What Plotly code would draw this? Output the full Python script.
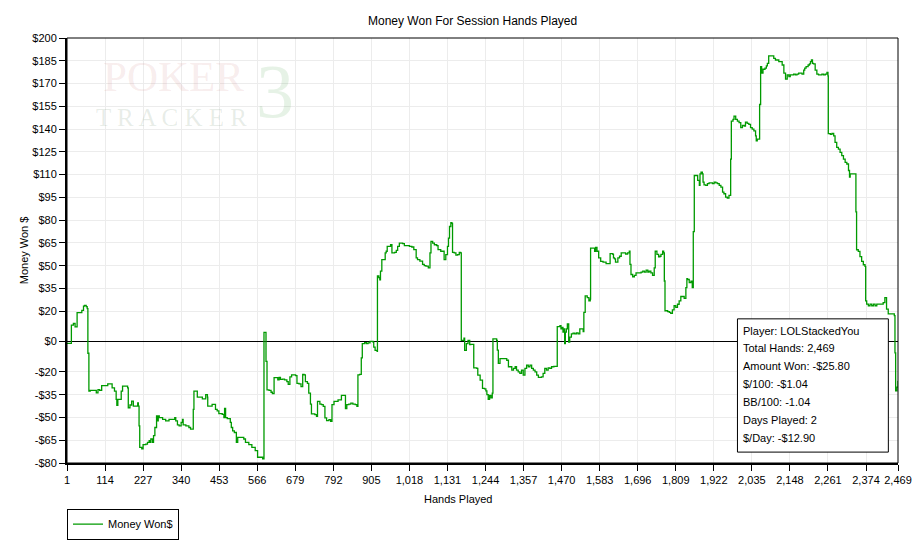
import plotly.graph_objects as go

# ---------------- data ----------------
hands = [
    1, 14, 20, 25, 31, 45, 50, 53, 58, 61, 63, 66, 70, 83, 88, 93, 98, 104, 117, 122,
    132, 135, 140, 142, 147, 149, 152, 157, 162, 166, 176, 181, 183, 188, 193, 198, 206, 211, 213, 215,
    217, 223, 227, 235, 240, 245, 248, 250, 255, 258, 262, 267, 270, 272, 275, 285, 294, 304, 314, 321,
    324, 329, 334, 340, 344, 346, 354, 363, 368, 373, 376, 378, 388, 403, 413, 418, 419, 427, 432, 437,
    442, 447, 452, 462, 467, 469, 472, 477, 486, 489, 493, 498, 504, 508, 516, 526, 531, 541, 550, 560,
    567, 575, 582, 586, 592, 595, 601, 607, 611, 616, 624, 627, 631, 635, 641, 647, 654, 658, 663, 668,
    680, 684, 690, 696, 701, 705, 709, 715, 719, 724, 727, 737, 742, 745, 752, 757, 762, 767, 772, 779,
    784, 788, 794, 801, 806, 816, 824, 828, 832, 838, 844, 850, 857, 862, 865, 870, 875, 878, 885, 890,
    895, 901, 910, 912, 916, 922, 923, 927, 930, 932, 936, 946, 949, 952, 957, 962, 966, 974, 979, 983,
    988, 998, 1003, 1011, 1018, 1025, 1031, 1038, 1042, 1049, 1057, 1062, 1067, 1074, 1079, 1082, 1087, 1092, 1099, 1103,
    1111, 1118, 1121, 1126, 1131, 1134, 1137, 1141, 1144, 1146, 1151, 1156, 1161, 1166, 1170, 1172, 1177, 1180, 1182, 1187,
    1192, 1197, 1200, 1209, 1218, 1221, 1228, 1233, 1235, 1241, 1245, 1248, 1252, 1256, 1260, 1264, 1266, 1273, 1277, 1279,
    1282, 1287, 1302, 1307, 1312, 1317, 1322, 1327, 1332, 1336, 1341, 1346, 1351, 1356, 1361, 1366, 1371, 1376, 1381, 1386,
    1391, 1396, 1401, 1410, 1415, 1420, 1425, 1430, 1435, 1440, 1447, 1455, 1457, 1465, 1468, 1471, 1474, 1477, 1479, 1481,
    1484, 1487, 1491, 1494, 1499, 1504, 1509, 1514, 1519, 1524, 1529, 1534, 1536, 1540, 1546, 1551, 1555, 1556, 1563, 1568,
    1571, 1575, 1580, 1586, 1593, 1602, 1610, 1614, 1622, 1624, 1627, 1630, 1637, 1642, 1647, 1652, 1660, 1666, 1671, 1673,
    1676, 1681, 1686, 1691, 1696, 1706, 1711, 1716, 1721, 1726, 1730, 1735, 1740, 1745, 1748, 1753, 1758, 1762, 1765, 1770,
    1773, 1775, 1777, 1785, 1790, 1794, 1799, 1804, 1809, 1814, 1819, 1824, 1829, 1834, 1839, 1842, 1844, 1849, 1854, 1858,
    1861, 1864, 1869, 1874, 1879, 1881, 1884, 1888, 1890, 1893, 1898, 1903, 1908, 1918, 1923, 1928, 1933, 1938, 1943, 1948,
    1952, 1957, 1962, 1967, 1972, 1974, 1979, 1982, 1987, 1992, 1997, 2002, 2007, 2012, 2016, 2021, 2026, 2031, 2036, 2041,
    2046, 2048, 2051, 2056, 2058, 2061, 2064, 2068, 2074, 2078, 2081, 2085, 2095, 2100, 2105, 2115, 2120, 2125, 2130, 2135,
    2140, 2145, 2149, 2154, 2159, 2164, 2169, 2174, 2179, 2184, 2189, 2192, 2196, 2202, 2206, 2209, 2212, 2215, 2218, 2223,
    2228, 2233, 2243, 2248, 2253, 2258, 2261, 2262, 2268, 2273, 2278, 2282, 2287, 2292, 2297, 2302, 2307, 2312, 2317, 2322,
    2325, 2327, 2343, 2344, 2346, 2351, 2356, 2361, 2366, 2371, 2373, 2376, 2381, 2386, 2391, 2396, 2401, 2406, 2416, 2421,
    2425, 2430, 2435, 2440, 2455, 2458, 2460, 2462, 2466, 2469,
]
money_won = [
    -1.2, 10.8, 11.9, 9.7, 19.1, 20.6, 23.4, 23.9, 23.0, 21.7, -7.7, -32.7, -32.2, -32.2, -33.8, -31.6, -32.2, -29.0, -29.0, -27.9,
    -27.9, -30.5, -30.5, -32.7, -38.1, -42.0, -38.1, -38.1, -32.7, -29.4, -29.4, -30.5, -43.6, -41.8, -39.2, -42.5, -42.5, -40.4, -42.5, -55.5,
    -69.7, -70.7, -67.9, -67.5, -66.4, -65.3, -66.4, -64.2, -66.4, -62.0, -56.6, -49.0, -52.3, -49.0, -50.1, -51.2, -52.3, -51.2, -51.2, -50.1,
    -52.3, -54.9, -55.5, -53.3, -51.2, -54.9, -55.5, -56.6, -57.7, -57.7, -44.7, -32.7, -36.6, -37.7, -34.9, -36.6, -42.5, -42.5, -41.4, -41.4,
    -44.7, -45.7, -47.5, -47.9, -50.1, -44.0, -50.1, -50.7, -53.3, -56.6, -58.8, -59.9, -66.4, -63.1, -63.1, -64.2, -66.4, -67.9, -69.7, -71.8,
    -76.2, -76.2, -77.3, 6.0, -13.1, -31.8, -32.2, -33.4, -34.3, -23.8, -23.8, -25.3, -23.6, -24.9, -24.7, -25.3, -26.4, -28.2, -23.2, -22.0,
    -22.5, -27.5, -27.9, -29.7, -21.6, -22.0, -26.4, -27.5, -34.0, -41.2, -47.7, -48.1, -49.2, -39.4, -41.2, -41.6, -42.7, -50.3, -52.1, -51.4,
    -52.5, -41.6, -39.4, -39.4, -38.4, -35.5, -35.5, -44.2, -41.6, -41.2, -40.5, -41.2, -41.6, -42.7, -22.0, -21.6, -10.8, -1.4, -0.7, -1.4,
    -0.9, 0.1, -0.3, -3.6, -5.8, -6.4, 43.2, 42.1, 40.6, 46.4, 54.0, 58.4, 59.5, 62.7, 62.7, 63.8, 58.4, 58.8, 60.1, 62.7,
    64.9, 64.5, 63.2, 63.2, 62.7, 62.3, 60.6, 55.1, 54.0, 53.0, 50.8, 50.1, 49.7, 48.6, 58.4, 66.0, 64.9, 63.8, 63.2, 60.6,
    59.5, 59.5, 54.0, 57.3, 62.7, 68.2, 75.8, 78.4, 77.9, 58.8, 58.4, 56.9, 57.3, 58.8, 58.4, 0.8, 0.8, 2.3, -5.8, -1.4,
    0.8, -2.0, -1.8, -17.3, -17.7, -22.1, -25.4, -25.4, -30.8, -31.2, -32.5, -35.0, -38.0, -35.5, -37.0, -34.0, 1.8, 1.8, 0.8, -5.7,
    -14.4, -11.2, -11.2, -12.3, -16.6, -16.6, -18.8, -17.7, -16.6, -18.8, -19.9, -21.0, -18.8, -22.1, -17.7, -15.5, -16.6, -15.5, -17.7, -18.8,
    -19.9, -22.1, -23.6, -23.2, -21.0, -17.7, -18.8, -17.3, -17.7, -16.6, -16.4, -16.4, 9.9, 10.5, 8.4, 9.4, 6.2, 8.4, -1.4, 6.2,
    8.4, 11.6, -0.3, 2.9, 5.1, 5.5, 5.1, 5.7, 5.1, 8.4, 8.4, 6.5, 19.2, 30.1, 29.0, 26.8, 27.9, 61.6, 61.6, 59.5,
    62.0, 59.5, 55.1, 52.9, 52.3, 51.4, 51.4, 58.0, 57.4, 55.1, 54.5, 52.3, 55.1, 56.2, 58.4, 58.4, 57.7, 58.4, 59.5, 50.8,
    44.2, 42.7, 43.6, 45.3, 45.3, 45.8, 46.4, 45.8, 47.1, 45.8, 46.4, 45.3, 43.6, 48.6, 59.5, 57.4, 55.8, 56.2, 57.4, 59.5,
    58.4, 39.9, 20.3, 19.7, 19.2, 18.6, 20.9, 23.6, 22.5, 24.6, 26.8, 29.7, 29.7, 28.4, 35.6, 41.4, 40.9, 38.8, 39.8, 35.6,
    72.5, 109.4, 109.4, 106.2, 102.9, 110.5, 111.6, 110.5, 105.1, 103.3, 102.9, 104.0, 104.6, 104.0, 105.1, 104.6, 104.0, 102.9, 101.8, 98.5,
    97.4, 95.2, 94.6, 96.3, 120.2, 145.3, 146.4, 148.5, 146.4, 145.3, 144.2, 140.9, 142.5, 142.0, 144.6, 143.8, 143.1, 140.9, 139.9, 138.8,
    135.5, 132.3, 133.4, 133.4, 156.2, 181.2, 176.8, 179.4, 180.1, 181.6, 183.3, 188.2, 188.2, 186.6, 185.5, 184.4, 184.4, 182.2, 176.8, 172.9,
    175.7, 174.6, 175.7, 175.7, 176.2, 175.7, 176.2, 176.8, 176.8, 176.2, 178.9, 180.1, 181.2, 182.2, 182.9, 184.4, 185.5, 183.3, 182.9, 178.9,
    176.2, 175.7, 176.2, 175.7, 176.2, 177.3, 175.1, 137.0, 136.6, 137.2, 135.5, 131.2, 127.9, 126.8, 124.6, 122.5, 120.2, 118.1, 117.0, 112.7,
    108.3, 110.5, 110.5, 85.5, 60.5, 59.4, 56.0, 52.8, 50.6, 49.5, 26.8, 24.7, 23.6, 24.7, 23.6, 24.7, 23.6, 24.7, 24.7, 24.7,
    25.7, 29.0, 21.4, 18.2, 18.2, 17.1, -7.5, -32.5, -30.0, -25.8,
]

x_tick_vals = [1, 114, 227, 340, 453, 566, 679, 792, 905, 1018, 1131, 1244, 1357, 1470,
               1583, 1696, 1809, 1922, 2035, 2148, 2261, 2374, 2469]
x_tick_text = ["1", "114", "227", "340", "453", "566", "679", "792", "905", "1,018", "1,131",
               "1,244", "1,357", "1,470", "1,583", "1,696", "1,809", "1,922", "2,035", "2,148",
               "2,261", "2,374", "2,469"]
y_tick_vals = [200, 185, 170, 155, 140, 125, 110, 95, 80, 65, 50, 35, 20, 0, -20, -35, -50, -65, -80]
y_tick_text = ["$200", "$185", "$170", "$155", "$140", "$125", "$110", "$95", "$80", "$65", "$50",
               "$35", "$20", "$0", "-$20", "-$35", "-$50", "-$65", "-$80"]

chart_title = "Money Won For Session Hands Played"
x_title = "Hands Played"
y_title = "Money Won $"
series_name = "Money Won$"
info_lines = ["Player: LOLStackedYou", "Total Hands: 2,469", "Amount Won: -$25.80",
              "$/100: -$1.04", "BB/100: -1.04", "Days Played: 2", "$/Day: -$12.90"]

# ---------------- figure ----------------
W, H = 924, 552
L, R, T, B = 67, 903, 38, 467          # plot-area pixel box
def px(xp):
    return (xp - L) / (R - L)
def py(yp):
    return (B - yp) / (B - T)

FONT = "Liberation Sans, Arial, sans-serif"
SERIF = "Liberation Serif, serif"
GREEN = "#009a00"

fig = go.Figure()
fig.add_trace(go.Scatter(
    x=hands, y=money_won, mode="lines", name=series_name,
    line=dict(color=GREEN, width=1.3, shape="hv"), showlegend=True,
))

axis_common = dict(
    showline=True, linecolor="black", linewidth=2,
    ticks="outside", ticklen=6, tickwidth=1, tickcolor="black",
    showgrid=True, gridcolor="#ececec", gridwidth=1,
    tickfont=dict(family=FONT, size=11, color="black"),
    tickmode="array", fixedrange=True,
)

fig.update_layout(
    width=W, height=H, autosize=False,
    margin=dict(l=L, r=W - R, t=T, b=H - B, pad=0),
    paper_bgcolor="white", plot_bgcolor="white",
    font=dict(family=FONT, size=11, color="black"),
    xaxis=dict(range=[1, 2469], tickvals=x_tick_vals, ticktext=x_tick_text,
               zeroline=False, **axis_common),
    yaxis=dict(range=[-80, 200], tickvals=y_tick_vals, ticktext=y_tick_text,
               zeroline=True, zerolinecolor="black", zerolinewidth=1, **axis_common),
    showlegend=True,
    legend=dict(x=0, y=py(513), xanchor="left", yanchor="top",
                bordercolor="black", borderwidth=1, bgcolor="white",
                font=dict(family=FONT, size=11, color="black"),
                itemwidth=30, tracegroupgap=0),
)

shapes = [
    # outer border of plot (top/right edges)
    dict(type="rect", xref="paper", yref="paper", x0=0, x1=1, y0=0, y1=1,
         line=dict(color="black", width=1), fillcolor="rgba(0,0,0,0)", layer="above"),
    # info box
    dict(type="rect", xref="paper", yref="paper", x0=px(741.5), x1=px(893.3), y0=py(456), y1=py(321.5),
         line=dict(color="black", width=1), fillcolor="white", layer="above"),
]
fig.update_layout(shapes=shapes)

ann = []
# faint watermark logo
ann.append(dict(text="POKER", x=px(174), y=py(77), xref="paper", yref="paper", showarrow=False,
                xanchor="center", yanchor="middle",
                font=dict(family=SERIF, size=43, color="rgba(205,120,120,0.15)")))
ann.append(dict(text="T R A C K E R", x=px(172), y=py(118), xref="paper", yref="paper", showarrow=False,
                xanchor="center", yanchor="middle",
                font=dict(family=SERIF, size=25, color="rgba(110,140,110,0.16)")))
ann.append(dict(text="3", x=px(276), y=py(92), xref="paper", yref="paper", showarrow=False,
                xanchor="center", yanchor="middle",
                font=dict(family=SERIF, size=76, color="rgba(90,170,90,0.15)")))
# titles
ann.append(dict(text=chart_title, x=px(475), y=py(20.5), xref="paper", yref="paper", showarrow=False,
                xanchor="center", yanchor="middle", font=dict(family=FONT, size=12, color="black")))
ann.append(dict(text=x_title, x=px(461), y=py(503), xref="paper", yref="paper", showarrow=False,
                xanchor="center", yanchor="middle", font=dict(family=FONT, size=11, color="black")))
ann.append(dict(text=y_title, x=px(24), y=py(252), xref="paper", yref="paper", showarrow=False,
                textangle=-90, xanchor="center", yanchor="middle",
                font=dict(family=FONT, size=11, color="black")))
# info box lines
line_y = [333.3, 351.3, 369.3, 387.3, 405.3, 423.3, 441.3]
for txt, yy in zip(info_lines, line_y):
    ann.append(dict(text=txt, x=px(745.5), y=py(yy), xref="paper", yref="paper", showarrow=False,
                    xanchor="left", yanchor="middle", align="left",
                    font=dict(family=FONT, size=11, color="black")))
fig.update_layout(annotations=ann)

# remove the browser's default 8px body margin so the figure sits at the page origin
fig.write_html("out.html", config={"displayModeBar": False},
               post_script="document.body.style.margin='0';")
